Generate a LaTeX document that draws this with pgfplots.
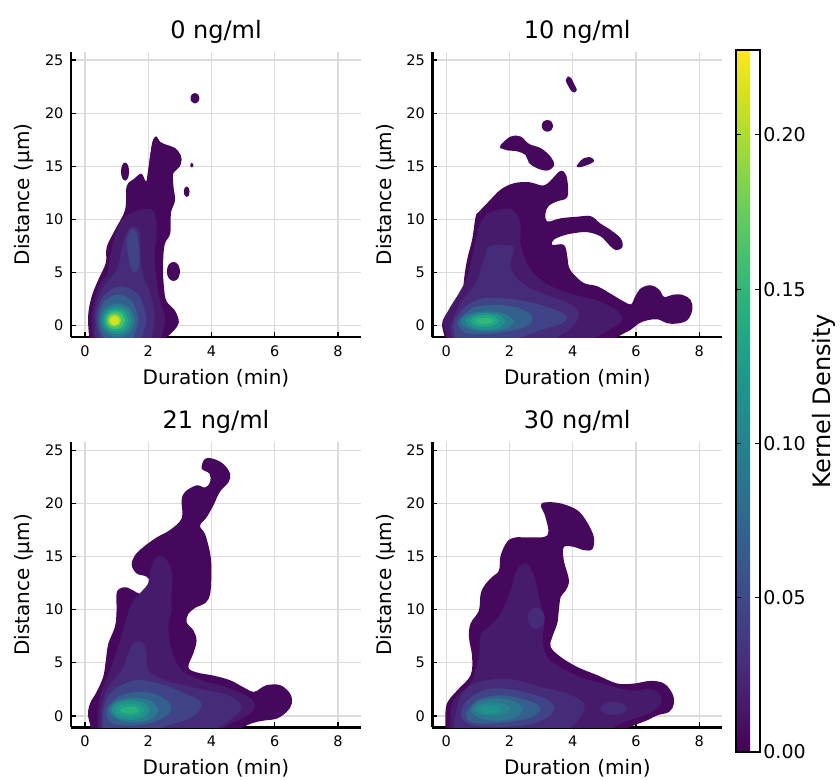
\documentclass[border=0pt]{standalone}
\usepackage{pgfplots}
\pgfplotsset{compat=1.18}
\usepackage{fontspec}
\setmainfont{DejaVu Sans}

% viridis band colours
\definecolor{c1}{RGB}{70,8,92}
\definecolor{c2}{RGB}{71,27,108}
\definecolor{c3}{RGB}{70,43,122}
\definecolor{c4}{RGB}{64,67,135}
\definecolor{c5}{RGB}{52,96,141}
\definecolor{c6}{RGB}{41,122,142}
\definecolor{c7}{RGB}{33,145,140}
\definecolor{c8}{RGB}{34,168,132}
\definecolor{c9}{RGB}{68,191,112}
\definecolor{c10}{RGB}{122,209,81}
\definecolor{c11}{RGB}{210,226,28}
\definecolor{g9}{RGB}{50,182,122}
\definecolor{b8}{RGB}{30,160,136}
\definecolor{b9}{RGB}{42,176,127}
\definecolor{r6}{RGB}{43,117,142}
\definecolor{r7}{RGB}{37,133,142}

\pgfkeys{/pgf/number format/assume math mode=true}
\pgfplotsset{
  lv/.style={draw=none, fill=#1, smooth, tension=0.6},
  panel/.style={
    scale only axis, width=290pt, height=285pt,
    xmin=-0.44, xmax=8.73, ymin=-1.07, ymax=25.75,
    axis x line*=bottom, axis y line*=left,
    axis line style={-, line width=2.5pt, black},
    xtick={0,2,4,6,8}, ytick={0,5,10,15,20,25},
    tick align=inside, major tick length=5pt,
    tick style={black, line width=1.2pt},
    grid=major, grid style={black!14, line width=1.2pt},
    ticklabel style={font=\fontsize{14.5}{17}\selectfont},
    xticklabel style={yshift=-5pt}, yticklabel style={xshift=-4pt},
    xlabel={Duration (min)}, ylabel={Distance (µm)},
    label style={font=\fontsize{20}{24}\selectfont},
    xlabel style={at={(axis description cs:0.5,-0.165)}, anchor=base},
    ylabel style={at={(axis description cs:-0.1414,0.5)}, anchor=base},
    title style={at={(axis description cs:0.5,1.028)}, anchor=base,
      font=\fontsize{24}{28}\selectfont},
  },
}

\begin{document}
\begin{tikzpicture}
\path[use as bounding box] (0,0) rectangle (840pt,-780pt);

% ---------------- 0 ng/ml
\begin{axis}[panel, at={(71pt,-337pt)}, anchor=south west, title={0 ng/ml}]
\addplot[lv=c1] coordinates {(0.14,-1.3) (0.1,0.85) (0.21,2.7) (0.42,4.3) (0.66,5.9) (0.69,7.4) (0.95,9.0) (1.27,10.9) (1.32,13.1) (1.55,13.8) (1.79,14.3) (1.95,13.6) (2.06,15.9) (2.14,17.3) (2.25,17.8) (2.37,17.3) (2.58,17.0) (2.85,16.7) (3.04,15.9) (3.0,15.0) (2.8,14.4) (2.8,13.1) (2.85,11.8) (2.72,10.6) (2.7,8.7) (2.52,7.6) (2.47,5.5) (2.5,3.6) (2.58,2.3) (2.85,1.4) (2.97,0.3) (2.8,-0.5) (2.5,-1.3)} --cycle;
\addplot[lv=c1] coordinates {(1.95,13.6) (2.06,15.9) (2.14,17.3) (2.25,17.8) (2.37,17.3) (2.58,17.0) (2.85,16.7) (3.04,15.9) (3.0,15.0) (2.8,14.4) (2.6,13.5) (2.2,13.0) (1.95,13.6)} --cycle;
\addplot[lv=c1] coordinates {(3.62,21.4) (3.58,21.755) (3.48,21.9) (3.38,21.755) (3.34,21.4) (3.38,21.045) (3.48,20.9) (3.58,21.045) (3.62,21.4)} --cycle;
\addplot[lv=c1] coordinates {(1.40,14.5) (1.362,15.1) (1.27,15.35) (1.178,15.1) (1.14,14.5) (1.178,13.9) (1.27,13.65) (1.362,13.9) (1.40,14.5)} --cycle;
\addplot[lv=c1] coordinates {(3.01,5.1) (2.949,5.74) (2.8,6.0) (2.651,5.74) (2.59,5.1) (2.651,4.46) (2.8,4.2) (2.949,4.46) (3.01,5.1)} --cycle;
\addplot[lv=c1] coordinates {(3.31,12.6) (3.284,12.955) (3.22,13.1) (3.156,12.955) (3.13,12.6) (3.156,12.245) (3.22,12.1) (3.284,12.245) (3.31,12.6)} --cycle;
\addplot[lv=c1] coordinates {(3.43,15.1) (3.416,15.242) (3.38,15.3) (3.344,15.242) (3.33,15.1) (3.344,14.958) (3.38,14.9) (3.416,14.958) (3.43,15.1)} --cycle;
\addplot[lv=c2] coordinates {(0.26,-1.3) (0.22,0.8) (0.32,2.6) (0.5,4.0) (0.72,5.0) (0.8,6.5) (0.95,8.4) (1.16,9.9) (1.53,10.7) (1.95,11.0) (2.2,10.6) (2.27,8.7) (2.2,6.5) (2.27,4.3) (2.37,2.4) (2.53,0.85) (2.48,-0.4) (2.37,-1.3)} --cycle;
\addplot[lv=c3] coordinates {(0.34,-1.3) (0.3,1.0) (0.42,2.6) (0.65,3.9) (0.9,4.8) (1.05,5.55) (1.21,7.75) (1.37,9.0) (1.58,9.3) (1.74,8.7) (1.76,6.5) (1.85,4.6) (2.06,3.05) (2.2,1.17) (2.17,-0.4) (2.1,-1.3)} --cycle;
\addplot[lv=c4] coordinates {(1.32,8.1) (1.45,9.0) (1.62,8.8) (1.72,7.0) (1.7,5.5) (1.55,5.0) (1.42,5.8) (1.35,7.0) (1.32,8.1)} --cycle;
\addplot[lv=c4] coordinates {(1.95,0.6) (1.72,2.8) (1.155,3.7) (0.59,2.8) (0.36,0.6) (0.59,-1.6) (1.155,-2.5) (1.72,-1.6) (1.95,0.6)} --cycle;
\addplot[lv=c5] coordinates {(1.69,0.55) (1.505,2.22) (1.055,2.9) (0.605,2.22) (0.42,0.55) (0.605,-1.12) (1.055,-1.8) (1.505,-1.12) (1.69,0.55)} --cycle;
\addplot[lv=c6] coordinates {(1.58,0.5) (1.42,1.64) (1.03,2.1) (0.64,1.64) (0.48,0.5) (0.64,-0.64) (1.03,-1.1) (1.42,-0.64) (1.58,0.5)} --cycle;
\addplot[lv=c7] coordinates {(1.48,0.5) (1.344,1.423) (1.01,1.8) (0.676,1.423) (0.54,0.5) (0.676,-0.423) (1.01,-0.8) (1.344,-0.423) (1.48,0.5)} --cycle;
\addplot[lv=c8] coordinates {(1.37,0.5) (1.258,1.246) (0.985,1.55) (0.712,1.246) (0.6,0.5) (0.712,-0.246) (0.985,-0.55) (1.258,-0.246) (1.37,0.5)} --cycle;
\addplot[lv=c9] coordinates {(1.27,0.5) (1.182,1.1) (0.965,1.35) (0.748,1.1) (0.66,0.5) (0.748,-0.1) (0.965,-0.35) (1.182,-0.1) (1.27,0.5)} --cycle;
\addplot[lv=c10] coordinates {(1.16,0.5) (1.096,0.94) (0.94,1.12) (0.784,0.94) (0.72,0.5) (0.784,0.06) (0.94,-0.12) (1.096,0.06) (1.16,0.5)} --cycle;
\addplot[lv=c11] coordinates {(1.1,0.48) (1.052,0.8) (0.935,0.93) (0.818,0.8) (0.77,0.48) (0.818,0.16) (0.935,0.03) (1.052,0.16) (1.1,0.48)} --cycle;
\end{axis}

% ---------------- 10 ng/ml
\begin{axis}[panel, at={(432.3pt,-337pt)}, anchor=south west, title={10 ng/ml},
  colorbar, colormap/viridis, point meta min=0, point meta max=0.2275,
  colorbar style={
    at={(parent axis.north east)}, anchor=north west, xshift=5pt, yshift=2pt,
    scale only axis, width=24pt, height=702pt,
    ytick={0,0.05,0.1,0.15,0.2},
    tick label style={font=\fontsize{19}{22}\selectfont},
    yticklabel style={xshift=0pt, /pgf/number format/.cd, fixed, fixed zerofill, precision=2},
    axis line style={line width=2.5pt, black},
    tick align=inside, major tick length=5pt, tick style={black, line width=1.2pt},
    ylabel={Kernel Density},
    every axis y label/.style={at={(axis description cs:3.96,0.5)}, rotate=90, anchor=base,
      font=\fontsize{24}{28}\selectfont},
  }]
\addplot[lv=c1] coordinates {(-0.02,-1.3) (-0.13,0.06) (-0.02,1.0) (0.24,1.94) (0.51,2.9) (0.56,4.3) (0.66,6.2) (0.82,8.1) (0.93,10.25) (1.03,10.7) (1.35,11.7) (1.72,12.8) (2.14,13.4) (2.62,13.5) (3.09,13.2) (3.41,14.0) (3.57,14.5) (3.72,14.5) (3.83,13.7) (3.83,12.1) (3.51,11.7) (3.25,11.3) (3.14,10.6) (3.2,9.8) (3.62,10.1) (4.15,10.25) (4.57,10.3) (4.88,9.6) (5.2,9.0) (5.52,8.2) (5.57,7.4) (5.36,7.1) (5.15,7.6) (4.88,8.4) (4.46,8.8) (4.04,8.7) (3.72,8.5) (3.41,8.1) (3.35,7.6) (3.72,7.6) (3.83,6.5) (3.88,5.5) (4.04,4.8) (4.36,4.0) (4.78,3.7) (5.2,3.0) (5.62,2.26) (5.85,2.0) (5.95,2.6) (6.15,3.5) (6.47,3.8) (6.73,3.4) (6.89,2.7) (7.15,2.9) (7.47,2.9) (7.73,2.4) (7.78,1.5) (7.63,0.53) (7.31,0.2) (7.0,0.22) (6.68,0.6) (6.36,0.5) (6.1,0.22) (5.83,-0.4) (5.52,-0.88) (5.3,-1.3)} --cycle;
\addplot[lv=c1] coordinates {(3.85,23.45) (3.95,23.3) (4.05,22.7) (4.13,22.2) (4.05,21.95) (3.95,22.1) (3.85,22.6) (3.78,23.1) (3.85,23.45)} --cycle;
\addplot[lv=c1] coordinates {(3.38,18.8) (3.328,19.19) (3.2,19.35) (3.072,19.19) (3.02,18.8) (3.072,18.41) (3.2,18.25) (3.328,18.41) (3.38,18.8)} --cycle;
\addplot[lv=c1] coordinates {(4.12,15.0) (4.2,15.35) (4.35,15.75) (4.55,15.85) (4.68,15.55) (4.6,15.3) (4.4,15.05) (4.2,14.9) (4.12,15.0)} --cycle;
\addplot[lv=c1] coordinates {(1.72,16.7) (1.72,17.0) (2.04,17.8) (2.35,17.8) (2.62,17.1) (2.99,16.7) (3.3,15.9) (3.41,15.1) (3.2,14.6) (2.88,14.8) (2.62,15.3) (2.51,16.05) (2.25,16.4) (1.93,16.5) (1.72,16.7)} --cycle;
\addplot[lv=c2] coordinates {(0.08,-1.3) (-0.08,0.23) (0.08,1.5) (0.4,3.05) (0.66,4.6) (0.87,7.1) (1.03,9.3) (1.3,10.5) (1.66,10.9) (2.09,10.9) (2.35,9.6) (2.35,7.75) (2.61,5.55) (3.14,4.0) (3.88,3.05) (4.72,2.4) (5.36,1.5) (5.57,0.54) (5.15,-0.4) (4.6,-1.3)} --cycle;
\addplot[lv=c3] coordinates {(0.2,-1.3) (0.14,-0.1) (0.29,1.17) (0.51,2.4) (0.93,4.0) (1.19,6.2) (1.35,7.4) (1.77,7.6) (2.14,7.3) (2.03,5.55) (2.4,4.0) (3.14,2.9) (3.88,2.1) (4.2,1.17) (3.99,-0.1) (3.4,-1.3)} --cycle;
\addplot[lv=c4] coordinates {(0.3,-1.3) (0.24,0.23) (0.61,1.8) (1.24,2.6) (2.3,2.4) (3.14,1.8) (3.78,1.0) (3.67,0.23) (2.83,-0.56) (2.2,-1.3)} --cycle;
\addplot[lv=c5] coordinates {(0.35,0.38) (0.82,1.64) (1.56,1.95) (2.3,1.64) (2.72,0.85) (2.51,-0.1) (1.56,-0.72) (0.61,-0.72) (0.35,0.38)} --cycle;
\addplot[lv=c6] coordinates {(2.15,0.4) (1.9,1.07) (1.3,1.35) (0.7,1.07) (0.45,0.4) (0.7,-0.27) (1.3,-0.55) (1.9,-0.27) (2.15,0.4)} --cycle;
\addplot[lv=c7] coordinates {(1.88,0.4) (1.697,0.954) (1.25,1.18) (0.803,0.954) (0.62,0.4) (0.803,-0.154) (1.25,-0.38) (1.697,-0.154) (1.88,0.4)} --cycle;
\addplot[lv=c8] coordinates {(1.67,0.45) (1.54,0.84) (1.22,1.0) (0.9,0.84) (0.77,0.45) (0.9,0.06) (1.22,-0.1) (1.54,0.06) (1.67,0.45)} --cycle;
\addplot[lv=g9] coordinates {(1.5,0.45) (1.42,0.663) (1.22,0.75) (1.02,0.663) (0.94,0.45) (1.02,0.237) (1.22,0.15) (1.42,0.237) (1.5,0.45)} --cycle;
\end{axis}

% ---------------- 21 ng/ml
\begin{axis}[panel, at={(71pt,-727.3pt)}, anchor=south west, title={21 ng/ml}]
\addplot[lv=c1] coordinates {(0.21,-1.3) (0.1,0.07) (0.16,1.16) (0.37,2.26) (0.58,3.7) (0.66,5.2) (0.74,6.8) (0.95,8.4) (1.0,9.9) (1.0,11.5) (1.11,12.0) (1.32,12.1) (1.53,11.8) (1.74,11.5) (1.95,11.7) (2.11,12.4) (1.95,13.1) (1.64,13.4) (1.48,14.2) (1.58,15.1) (1.85,15.9) (2.27,16.8) (2.69,17.5) (3.06,18.6) (3.06,20.3) (3.17,21.1) (3.53,21.7) (3.8,21.5) (3.96,22.0) (3.94,22.8) (3.69,23.3) (3.8,24.2) (4.06,24.2) (4.38,23.7) (4.59,22.8) (4.54,22.0) (4.27,21.1) (4.06,19.8) (3.85,18.7) (3.64,17.9) (3.8,17.1) (3.96,15.3) (4.0,13.7) (3.96,11.5) (3.8,10.6) (3.53,10.25) (3.27,9.6) (3.22,8.8) (3.43,8.05) (3.53,7.1) (3.43,5.9) (3.27,4.6) (3.53,4.1) (4.06,3.8) (4.59,3.36) (5.01,2.7) (5.33,2.26) (5.54,2.57) (5.75,2.9) (6.17,2.9) (6.49,2.1) (6.54,1.16) (6.38,0.38) (6.07,-0.25) (5.75,-0.4) (5.43,-0.56) (5.12,-0.88) (4.9,-1.3)} --cycle;
\addplot[lv=c2] coordinates {(0.4,-1.3) (0.42,0.54) (0.53,2.4) (0.79,4.3) (1.05,6.5) (1.27,8.7) (1.48,10.6) (1.79,11.7) (2.0,12.5) (2.1,14.0) (2.3,15.0) (2.55,14.8) (2.75,13.5) (2.74,11.2) (2.74,9.94) (2.64,8.4) (2.74,6.2) (3.06,4.3) (3.69,3.36) (4.43,2.73) (5.17,1.8) (5.38,0.85) (5.06,-0.1) (4.6,-0.72) (4.3,-1.3)} --cycle;
\addplot[lv=c3] coordinates {(0.5,-1.3) (0.53,0.85) (0.74,2.73) (1.16,4.3) (1.42,6.2) (1.53,6.8) (1.79,7.0) (1.95,6.0) (2.0,4.3) (2.53,3.36) (3.59,2.57) (4.54,1.95) (4.96,0.85) (4.64,-0.25) (4.1,-1.3)} --cycle;
\addplot[lv=c4] coordinates {(0.58,-1.3) (0.58,0.54) (0.84,2.26) (1.58,3.36) (2.32,3.05) (3.06,2.26) (3.69,1.17) (3.38,-0.1) (2.64,-0.9) (2.2,-1.3)} --cycle;
\addplot[lv=c5] coordinates {(0.69,0.69) (1.05,1.8) (1.69,2.26) (2.32,1.95) (2.74,0.85) (2.43,-0.25) (1.6,-0.9) (0.8,-0.6) (0.69,0.69)} --cycle;
\addplot[lv=c6] coordinates {(2.33,0.55) (2.104,1.367) (1.55,1.7) (0.996,1.367) (0.77,0.55) (0.996,-0.267) (1.55,-0.6) (2.104,-0.267) (2.33,0.55)} --cycle;
\addplot[lv=c7] coordinates {(2.05,0.55) (1.876,1.203) (1.45,1.47) (1.024,1.203) (0.85,0.55) (1.024,-0.103) (1.45,-0.37) (1.876,-0.103) (2.05,0.55)} --cycle;
\addplot[lv=b8] coordinates {(1.87,0.55) (1.74,0.99) (1.42,1.17) (1.1,0.99) (0.97,0.55) (1.1,0.11) (1.42,-0.07) (1.74,0.11) (1.87,0.55)} --cycle;
\addplot[lv=b9] coordinates {(1.72,0.55) (1.633,0.806) (1.42,0.91) (1.207,0.806) (1.12,0.55) (1.207,0.294) (1.42,0.19) (1.633,0.294) (1.72,0.55)} --cycle;
\end{axis}

% ---------------- 30 ng/ml
\begin{axis}[panel, at={(432.3pt,-727.3pt)}, anchor=south west, title={30 ng/ml}]
\addplot[lv=c1] coordinates {(-0.02,-1.3) (-0.02,0.54) (0.08,1.48) (0.4,2.57) (0.77,3.83) (0.82,5.55) (0.72,7.4) (0.77,8.7) (1.03,9.9) (1.09,11.5) (1.24,12.4) (1.46,13.1) (1.67,13.7) (1.72,15.1) (1.93,16.4) (2.19,16.8) (2.62,16.8) (3.2,17.0) (3.14,18.7) (2.99,19.8) (3.14,20.1) (3.62,20.0) (4.15,19.35) (4.46,18.2) (4.67,16.8) (4.62,15.7) (4.36,15.6) (4.04,15.9) (3.72,15.9) (3.72,14.6) (3.88,12.8) (3.78,11.8) (3.62,11.2) (3.56,9.9) (3.51,8.7) (3.35,7.4) (3.3,6.5) (3.62,5.55) (4.15,4.6) (4.78,3.83) (5.41,3.05) (5.94,3.05) (6.47,3.3) (6.89,3.05) (7.15,2.1) (7.2,1.16) (7.05,0.38) (6.68,0.07) (6.36,-0.4) (5.94,-0.88) (5.62,-1.3)} --cycle;
\addplot[lv=c2] coordinates {(0.14,-1.3) (0.14,0.54) (0.3,1.8) (0.77,3.05) (1.03,5.55) (1.09,7.6) (1.35,8.4) (1.7,9.5) (2.0,11.5) (2.2,13.5) (2.4,14.3) (2.6,14.2) (2.8,13.0) (2.95,11.0) (3.1,9.0) (3.05,7.0) (3.2,5.5) (3.6,4.6) (4.2,3.7) (5.0,3.0) (5.8,2.4) (6.5,2.5) (6.8,1.8) (6.7,0.8) (6.3,0.1) (5.6,-0.6) (5.2,-1.3)} --cycle;
\addplot[lv=c3] coordinates {(0.22,-1.3) (0.29,0.07) (0.45,1.8) (0.87,3.05) (1.93,3.5) (2.98,2.73) (3.83,2.1) (4.35,1.17) (4.25,-0.1) (3.83,-1.3)} --cycle;
\addplot[lv=c3] coordinates {(3.12,9.2) (3.04,9.91) (2.85,10.2) (2.66,9.91) (2.58,9.2) (2.66,8.49) (2.85,8.2) (3.04,8.49) (3.12,9.2)} --cycle;
\addplot[lv=c3] coordinates {(5.72,0.7) (5.6,1.13) (5.3,1.3) (5.0,1.13) (4.88,0.7) (5.0,0.27) (5.3,0.1) (5.6,0.27) (5.72,0.7)} --cycle;
\addplot[lv=c4] coordinates {(0.45,0.07) (0.66,1.48) (1.4,2.57) (2.46,2.26) (3.3,1.32) (3.3,0.07) (2.46,-0.9) (0.87,-0.9) (0.45,0.07)} --cycle;
\addplot[lv=c5] coordinates {(0.61,0.22) (0.98,1.48) (1.72,1.95) (2.56,1.48) (2.98,0.69) (2.56,-0.25) (1.4,-0.72) (0.77,-0.56) (0.61,0.22)} --cycle;
\addplot[lv=r6] coordinates {(2.43,0.6) (2.19,1.345) (1.6,1.65) (1.01,1.345) (0.77,0.6) (1.01,-0.145) (1.6,-0.45) (2.19,-0.145) (2.43,0.6)} --cycle;
\addplot[lv=r7] coordinates {(2.03,0.65) (1.86,1.09) (1.45,1.27) (1.04,1.09) (0.87,0.65) (1.04,0.21) (1.45,0.03) (1.86,0.21) (2.03,0.65)} --cycle;
\addplot[lv=c7] coordinates {(1.72,0.6) (1.627,0.884) (1.4,1.0) (1.173,0.884) (1.08,0.6) (1.173,0.316) (1.4,0.2) (1.627,0.316) (1.72,0.6)} --cycle;
\end{axis}
\end{tikzpicture}
\end{document}
